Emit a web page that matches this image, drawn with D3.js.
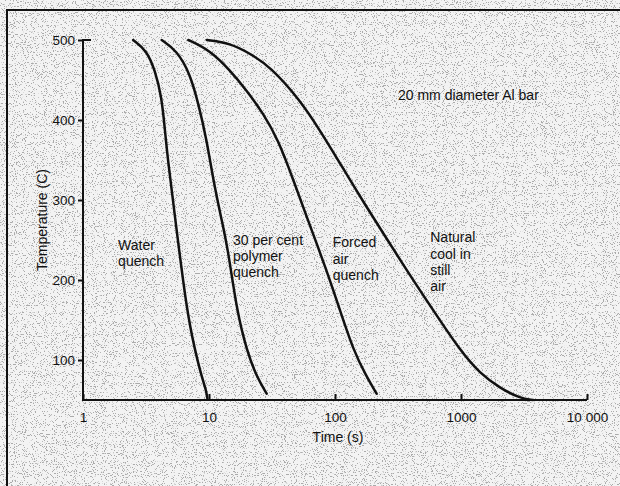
<!DOCTYPE html>
<html>
<head>
<meta charset="utf-8">
<script src="https://cdn.jsdelivr.net/npm/d3@7"></script>
<style>
  body { margin: 0; background: #fff; }
  svg { display: block; }
  text { font-family: "Liberation Sans", Arial, sans-serif; fill: #111; }
</style>
</head>
<body>
<div id="chart"></div>
<script>
// cooling curves for a 20 mm Al bar, [time (s), temperature (C)]
var waterQuench = [[2.5, 500], [3.2, 487], [3.73, 462], [4.21, 429], [4.47, 387], [4.75, 346],
  [5.37, 279], [6.65, 162], [7.74, 112], [8.75, 79], [9.5, 62], [9.7, 52]];
var polymerQuench = [[4.21, 500], [5.54, 487], [7.07, 458], [8.22, 421], [9.59, 375], [10.8, 325],
  [12.6, 275], [14.2, 237], [16.6, 162], [19.9, 112], [23.9, 79], [28.7, 58]];
var forcedAir = [[6.85, 500], [10.2, 487], [14.7, 462], [19.9, 437], [27, 408], [35.5, 375],
  [46.7, 325], [59.6, 279], [85.9, 212], [109.6, 162], [140, 112], [178, 79], [214, 58]];
var stillAir = [[9.6, 500], [14.7, 496], [21.2, 483], [30.5, 467], [52.8, 425],
  [76, 387], [109.6, 346], [158, 304], [371, 212], [603, 162],
  [982, 112], [1415, 83], [2040, 65], [2940, 52], [3730, 50]];

var series = [waterQuench, polymerQuench, forcedAir, stillAir];

// curve labels: anchor [time, temperature] of first baseline, then the lines
var curveLabels = [
  { at: [1.9, 238], lines: ["Water", "quench"] },
  { at: [15.5, 244], lines: ["30 per cent", "polymer", "quench"] },
  { at: [96, 241], lines: ["Forced", "air", "quench"] },
  { at: [570, 247], lines: ["Natural", "cool in", "still", "air"] }
];
var noteText = "20 mm diameter Al bar";
var noteAt = [316, 425];

var xTicks = [1, 10, 100, 1000, 10000];
var xTickLabels = ["1", "10", "100", "1000", "10 000"];
var yTicks = [100, 200, 300, 400, 500];

var width = 620, height = 486;

var svg = d3.select("#chart").append("svg")
  .attr("width", width)
  .attr("height", height);

// scanned paper: light ground with speckle
var defs = svg.append("defs");
var grain = defs.append("filter")
  .attr("id", "grain")
  .attr("x", 0).attr("y", 0).attr("width", "100%").attr("height", "100%");
grain.append("feTurbulence")
  .attr("type", "fractalNoise")
  .attr("baseFrequency", 0.9)
  .attr("numOctaves", 2)
  .attr("seed", 7)
  .attr("result", "noise");
grain.append("feColorMatrix")
  .attr("type", "matrix")
  .attr("values", "0 0 0 0 0.4  0 0 0 0 0.4  0 0 0 0 0.4  -14 0 0 0 5.7");

svg.append("rect")
  .attr("width", width)
  .attr("height", height)
  .attr("fill", "#f3f3f3");
svg.append("rect")
  .attr("width", width)
  .attr("height", height)
  .attr("filter", "url(#grain)");

// scan frame, left and top
svg.append("path")
  .attr("d", "M7," + height + "V10H" + width)
  .attr("fill", "none")
  .attr("stroke", "#111")
  .attr("stroke-width", 2);

var x = d3.scaleLog().domain([1, 10000]).range([83, 587]);
var y = d3.scaleLinear().domain([50, 500]).range([400, 40]);

var xAxis = svg.append("g")
  .attr("transform", "translate(0," + y(50) + ")")
  .call(d3.axisBottom(x)
    .tickValues(xTicks)
    .tickSize(-6)
    .tickPadding(12)
    .tickFormat(function(d, i) { return xTickLabels[i]; }));

var yAxis = svg.append("g")
  .attr("transform", "translate(" + x(1) + ",0)")
  .call(d3.axisLeft(y)
    .tickValues(yTicks)
    .tickSize(5)
    .tickPadding(3));

[xAxis, yAxis].forEach(function(g) {
  g.select(".domain").remove();
  g.selectAll(".tick line").attr("stroke", "#111").attr("stroke-width", 2);
  g.selectAll(".tick text")
    .attr("font-size", 13.5)
    .attr("font-family", "'Liberation Sans', Arial, sans-serif")
    .attr("fill", "#111");
});

// axis lines drawn plainly (no end caps)
svg.append("line")
  .attr("x1", x(1)).attr("x2", x(10000))
  .attr("y1", y(50)).attr("y2", y(50))
  .attr("stroke", "#111").attr("stroke-width", 2);
svg.append("line")
  .attr("x1", x(1)).attr("x2", x(1))
  .attr("y1", y(500) - 1).attr("y2", y(50) + 1)
  .attr("stroke", "#111").attr("stroke-width", 2);
// small hook at the top of the temperature axis
svg.append("line")
  .attr("x1", x(1)).attr("x2", x(1) + 8)
  .attr("y1", y(500)).attr("y2", y(500))
  .attr("stroke", "#111").attr("stroke-width", 2);

var line = d3.line()
  .x(function(d) { return x(d[0]); })
  .y(function(d) { return y(d[1]); })
  .curve(d3.curveBasis);

svg.append("g")
  .selectAll("path")
  .data(series)
  .enter().append("path")
    .attr("d", line)
    .attr("fill", "none")
    .attr("stroke", "#111")
    .attr("stroke-width", 2.5)
    .attr("stroke-linecap", "round");

var lbl = svg.append("g").attr("font-size", 14);
curveLabels.forEach(function(l) {
  var t = lbl.append("text")
    .attr("x", x(l.at[0]))
    .attr("y", y(l.at[1]));
  l.lines.forEach(function(s, i) {
    t.append("tspan")
      .attr("x", x(l.at[0]))
      .attr("dy", i === 0 ? 0 : 16.3)
      .text(s);
  });
});

svg.append("text")
  .attr("x", x(noteAt[0]))
  .attr("y", y(noteAt[1]))
  .attr("font-size", 14)
  .text(noteText);

svg.append("text")
  .attr("x", (x(1) + x(10000)) / 2 + 3)
  .attr("y", 442)
  .attr("text-anchor", "middle")
  .attr("font-size", 14)
  .text("Time (s)");

svg.append("text")
  .attr("transform", "translate(47," + (y(50) + y(500)) / 2 + ") rotate(-90)")
  .attr("text-anchor", "middle")
  .attr("font-size", 14)
  .text("Temperature (C)");
</script>
</body>
</html>
